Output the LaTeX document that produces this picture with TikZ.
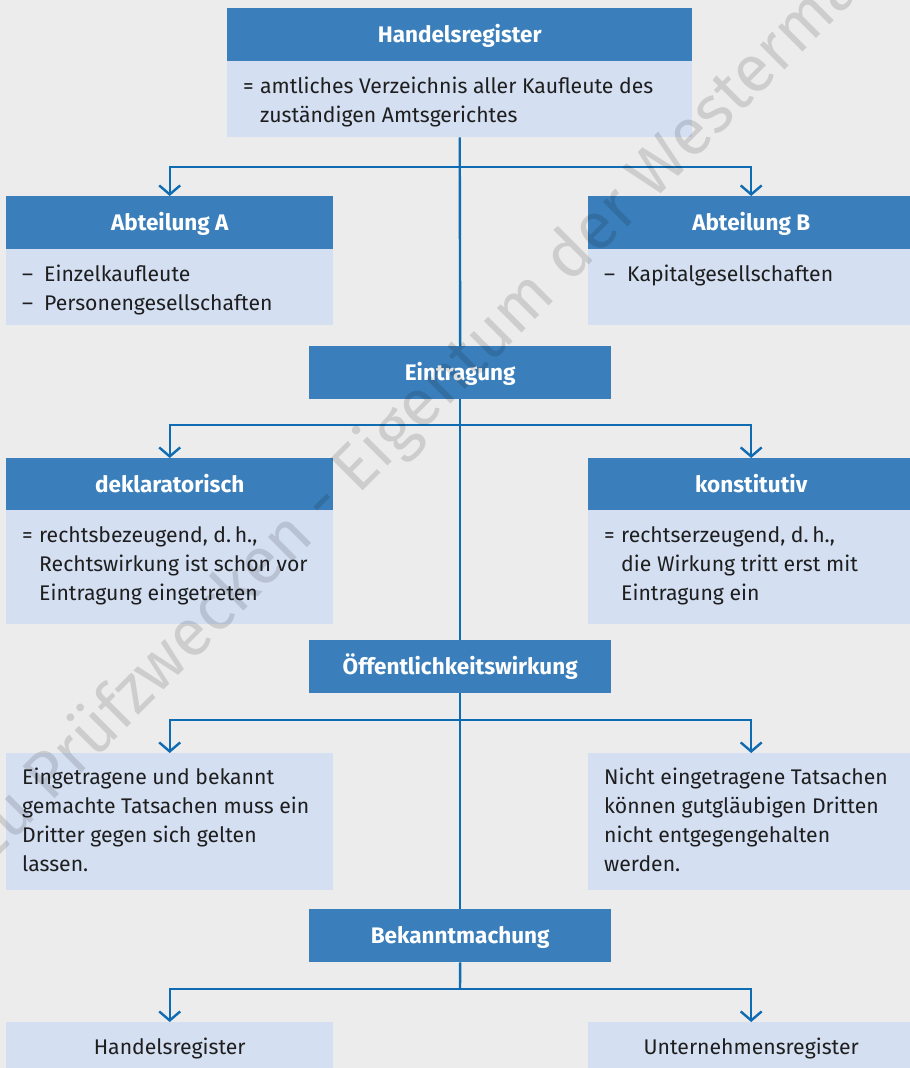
\documentclass[tikz,border=0pt]{standalone}
\usepackage{fontspec}
\setmainfont{Fira Sans}
\usetikzlibrary{arrows.meta}
\definecolor{headblue}{RGB}{58,127,187}
\definecolor{bodyblue}{RGB}{212,223,242}
\definecolor{lineblue}{RGB}{16,108,178}
\definecolor{bggray}{RGB}{236,236,236}
\definecolor{textgray}{RGB}{30,30,30}

\begin{document}
\begin{tikzpicture}[x=1pt,y=-1pt,
    font=\fontsize{21.2}{29}\selectfont,
    head/.style={fill=headblue,text=white,font=\fontsize{22.5}{29}\selectfont\bfseries,
      inner sep=0pt,anchor=north west,minimum height=53pt,text height=18pt,text depth=3pt},
    body/.style={fill=bodyblue,inner sep=0pt,anchor=north west},
    txt/.style={text=textgray,inner sep=0pt,anchor=north west,align=left},
    trunk/.style={draw=lineblue,line width=2.4pt},
    arr/.style={trunk,-{Straight Barb[length=9pt,width=21pt]}}]
    \def\eq{\makebox[17pt][l]{=}}
    \def\da{\makebox[22pt][l]{–}}
    \clip (0,0) rectangle (910,1068);
    \fill[bggray] (0,0) rectangle (910,1068);

    \node[head,minimum width=465pt] (hr) at (227,8) {Handelsregister};
    \node[body,minimum width=465pt,minimum height=76pt] (hrbody) at (227,61) {};
    \node[txt] (hrtxt) at (243,77) {\eq amtliches Verzeichnis aller Kaufleute des\\\hspace*{17pt}zuständigen Amtsgerichtes};

    \node[head,minimum width=327pt] (abtA) at (6,196) {Abteilung A};
    \node[body,minimum width=327pt,minimum height=76pt] (abtAbody) at (6,249) {};
    \node[txt] (abtAtxt) at (22,265) {\da Einzelkaufleute\\\da Personengesellschaften};

    \node[head,minimum width=326pt] (abtB) at (588,196) {Abteilung B};
    \node[body,minimum width=326pt,minimum height=76pt] (abtBbody) at (588,249) {};
    \node[txt] (abtBtxt) at (604,265) {\makebox[23pt][l]{–}Kapitalgesellschaften};

    \node[head,minimum width=302pt] (eintr) at (309,346) {Eintragung};

    \node[head,minimum width=327pt] (dekl) at (6,458) {deklaratorisch};
    \node[body,minimum width=327pt,minimum height=114pt] (deklbody) at (6,510) {};
    \node[txt] (dekltxt) at (22,526) {\eq rechtsbezeugend, d.\,h.,\\\hspace*{17pt}Rechtswirkung ist schon vor\\\hspace*{17pt}Eintragung eingetreten};

    \node[head,minimum width=326pt] (konst) at (588,458) {konstitutiv};
    \node[body,minimum width=326pt,minimum height=114pt] (konstbody) at (588,510) {};
    \node[txt] (konsttxt) at (604,526) {\eq rechtserzeugend, d.\,h.,\\\hspace*{17pt}die Wirkung tritt erst mit\\\hspace*{17pt}Eintragung ein};

    \node[head,minimum width=302pt] (oeff) at (309,640) {Öffentlichkeitswirkung};

    \node[body,minimum width=327pt,minimum height=137pt] (einget) at (6,753) {};
    \node[txt] (eingettxt) at (22,768) {Eingetragene und bekannt\\gemachte Tatsachen muss ein\\Dritter gegen sich gelten\\lassen.};

    \node[body,minimum width=326pt,minimum height=137pt] (nicht) at (588,753) {};
    \node[txt] (nichttxt) at (604,768) {Nicht eingetragene Tatsachen\\können gutgläubigen Dritten\\nicht entgegengehalten\\werden.};

    \node[head,minimum width=302pt] (bek) at (309,909) {Bekanntmachung};

    \node[body,text=textgray,minimum width=327pt,minimum height=54pt,text height=15pt,text depth=5pt] (hrbot) at (6,1022) {Handelsregister};
    \node[body,text=textgray,minimum width=326pt,minimum height=54pt,text height=15pt,text depth=5pt] (ureg) at (588,1022) {Unternehmensregister};

    \coordinate (j1) at (460,167);
    \coordinate (j2) at (460,425);
    \coordinate (j3) at (460,720);
    \coordinate (j4) at (460,989);

    \draw[trunk] (hrbody.south) -- (eintr.north);
    \draw[trunk] (eintr.south) -- (oeff.north);
    \draw[trunk] (oeff.south) -- (bek.north);
    \draw[trunk] (bek.south) -- (j4);
    \draw[arr] (j1) -| (abtA.north);
    \draw[arr] (j1) -| (abtB.north);
    \draw[arr] (j2) -| (dekl.north);
    \draw[arr] (j2) -| (konst.north);
    \draw[arr] (j3) -| (einget.north);
    \draw[arr] (j3) -| (nicht.north);
    \draw[arr] (j4) -| (hrbot.north);
    \draw[arr] (j4) -| (ureg.north);

    \node[rotate=45,text=black,text opacity=0.13,font=\fontsize{66}{66}\selectfont] (wm) at (440,388) {Zu Prüfzwecken - Eigentum der Westermann};
\end{tikzpicture}
\end{document}
